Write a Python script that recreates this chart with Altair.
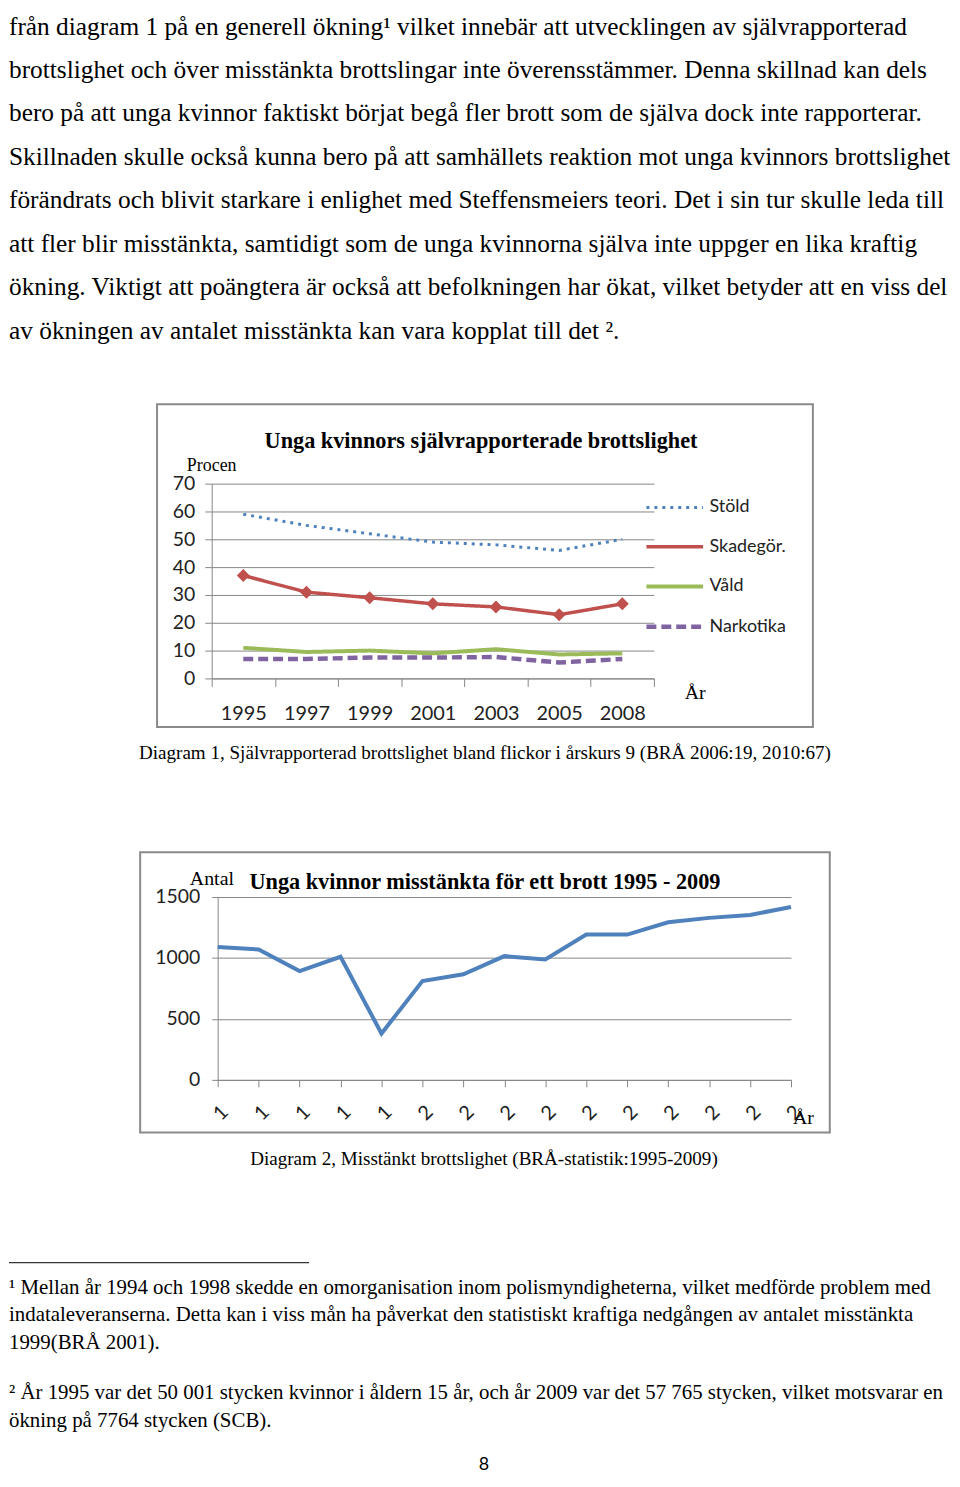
import altair as alt
import pandas as pd

# ---------------- data ----------------
main_lines = [
    "från diagram 1 på en generell ökning¹ vilket innebär att utvecklingen av självrapporterad",
    "brottslighet och över misstänkta brottslingar inte överensstämmer. Denna skillnad kan dels",
    "bero på att unga kvinnor faktiskt börjat begå fler brott som de själva dock inte rapporterar.",
    "Skillnaden skulle också kunna bero på att samhällets reaktion mot unga kvinnors brottslighet",
    "förändrats och blivit starkare i enlighet med Steffensmeiers teori. Det i sin tur skulle leda till",
    "att fler blir misstänkta, samtidigt som de unga kvinnorna själva inte uppger en lika kraftig",
    "ökning. Viktigt att poängtera är också att befolkningen har ökat, vilket betyder att en viss del",
    "av ökningen av antalet misstänkta kan vara kopplat till det ².",
]

years1 = ["1995", "1997", "1999", "2001", "2003", "2005", "2008"]
series1 = ["Stöld", "Skadegör.", "Våld", "Narkotika"]
stold = [59, 55, 52, 49, 48, 46, 50]
skadegor = [37, 31, 29, 26.8, 25.7, 22.9, 26.8]
vald = [11, 9.5, 10, 9, 10.5, 8.6, 9]
narkotika = [7, 7, 7.5, 7.5, 7.7, 5.7, 7]
yticks1 = [0, 10, 20, 30, 40, 50, 60, 70]

years2 = ["1995", "1996", "1997", "1998", "1999", "2000", "2001", "2002",
          "2003", "2004", "2005", "2006", "2007", "2008", "2009"]
counts = [1090, 1070, 893, 1010, 380, 811, 866, 1015, 988, 1192, 1192, 1293, 1329, 1353, 1418]
yticks2 = [0, 500, 1000, 1500]

title1 = "Unga kvinnors självrapporterade brottslighet"
title2 = "Unga kvinnor misstänkta för ett brott 1995 - 2009"
caption1 = "Diagram 1, Självrapporterad brottslighet bland flickor i årskurs 9 (BRÅ 2006:19, 2010:67)"
caption2 = "Diagram 2, Misstänkt brottslighet (BRÅ-statistik:1995-2009)"
footnotes1 = [
    "¹ Mellan år 1994 och 1998 skedde en omorganisation inom polismyndigheterna, vilket medförde problem med",
    "indataleveranserna. Detta kan i viss mån ha påverkat den statistiskt kraftiga nedgången av antalet misstänkta",
    "1999(BRÅ 2001).",
]
footnotes2 = [
    "² År 1995 var det 50 001 stycken kvinnor i åldern 15 år, och år 2009 var det 57 765 stycken, vilket motsvarar en",
    "ökning på 7764 stycken (SCB).",
]
page_no = "8"

SERIF = "Liberation Serif"
SANS = "Lato"
GRID = "#868686"
BOX = "#8a8a8a"

colors1 = ["#4F81BD", "#C0504D", "#9BBB59", "#8064A2"]


def txt(s):
    return pd.DataFrame({"t": [s]})


def label(s, x, y, size, weight="normal", align="left", font=SERIF):
    return alt.Chart(txt(s)).mark_text(font=font, fontSize=size, fontWeight=weight,
                                       baseline="middle", align=align, color="#000").encode(
        x=alt.value(x), y=alt.value(y), text="t:N")


def box(x0, x1, y0, y1):
    return alt.Chart(txt("")).mark_rect(fillOpacity=0, stroke=BOX, strokeWidth=2).encode(
        x=alt.value(x0), x2=alt.value(x1), y=alt.value(y0), y2=alt.value(y1))


# ---------------- panel A: body text ----------------
dfA = pd.DataFrame({"i": list(range(len(main_lines))), "t": main_lines})
panelA = alt.Chart(dfA).mark_text(
    align="left", baseline="middle", font=SERIF, fontSize=25.5, color="#000"
).encode(
    x=alt.value(0),
    y=alt.Y("i:Q", scale=alt.Scale(domain=[0, 7], range=[13, 319]), axis=None),
    text="t:N",
).properties(width=944, height=393)

# ---------------- panel B: chart 1 (box at x 149..809) ----------------
rows = []
for s, vals in zip(series1, [stold, skadegor, vald, narkotika]):
    for y, v in zip(years1, vals):
        rows.append({"year": y, "series": s, "value": v})
df1 = pd.DataFrame(rows)

X0 = 149
xsc1 = alt.Scale(type="band", domain=years1, range=[X0 + 55, X0 + 500], paddingInner=0, paddingOuter=0)
ysc1 = alt.Scale(domain=[0, 70], range=[276, 80])

lines1 = alt.Chart(df1).mark_line(strokeCap="butt").encode(
    x=alt.X("year:N", scale=xsc1, title=None,
            axis=alt.Axis(orient="bottom", offset=-49, tickBand="extent", tickSize=8,
                          labelPadding=17, labelFont=SANS, labelFontSize=20, labelColor="#222",
                          labelAngle=0, domainColor=GRID, tickColor=GRID, grid=False)),
    y=alt.Y("value:Q", scale=ysc1, title=None,
            axis=alt.Axis(orient="left", offset=-(X0 + 55), values=yticks1, tickSize=7,
                          labelPadding=10, labelFont=SANS, labelFontSize=19.5, labelColor="#222",
                          domainColor=GRID, tickColor=GRID, grid=True, gridColor=GRID)),
    color=alt.Color("series:N", scale=alt.Scale(domain=series1, range=colors1), title=None,
                    legend=alt.Legend(orient="none", legendX=639, legendY=467, symbolType="stroke",
                                      symbolSize=3249, rowPadding=-20, labelFont=SANS,
                                      labelFontSize=18, labelColor="#222", labelOffset=4)),
    strokeDash=alt.StrokeDash("series:N", scale=alt.Scale(domain=series1,
                              range=[[3, 5], [1, 0], [1, 0], [10, 5]]), title=None),
    strokeWidth=alt.StrokeWidth("series:N", scale=alt.Scale(domain=series1, range=[3, 4.5, 4, 4]),
                                title=None),
)

diam1 = alt.Chart(df1).transform_filter(alt.datum.series == "Skadegör.").mark_point(
    shape="diamond", filled=True, size=170, color="#C0504D", opacity=1
).encode(x=alt.X("year:N", scale=xsc1), y=alt.Y("value:Q", scale=ysc1))

panelB = alt.layer(
    lines1, diam1,
    box(X0, X0 + 660, 0, 325),
    label(title1, X0 + 326, 37, 22.4, weight="bold", align="center"),
    label("Procen", X0 + 30, 62, 18),
    label("År", X0 + 531, 291, 20),
).properties(width=944, height=325)

# ---------------- panel C: caption 1 ----------------
panelC = label(caption1, 479, 26, 19.2, align="center").properties(width=944, height=126)

# ---------------- panel D: chart 2 (box at x 132..826) ----------------
X1 = 132
df2 = pd.DataFrame({"year": years2, "count": counts})
xsc2 = alt.Scale(type="point", domain=years2, range=[X1 + 78, X1 + 655], padding=0)
ysc2 = alt.Scale(domain=[0, 1500], range=[229, 45])

line2 = alt.Chart(df2).mark_line(color="#4F81BD", strokeWidth=4).encode(
    x=alt.X("year:O", scale=xsc2, title=None,
            axis=alt.Axis(orient="bottom", offset=-53, tickSize=7, labelPadding=15,
                          labelExpr="substring(datum.label, 0, 1)", labelAngle=315,
                          labelFont=SANS, labelFontSize=20, labelColor="#222",
                          domainColor=GRID, tickColor=GRID, grid=False)),
    y=alt.Y("count:Q", scale=ysc2, title=None,
            axis=alt.Axis(orient="left", offset=-(X1 + 78), values=yticks2, tickSize=6, format="d",
                          labelPadding=12, labelFont=SANS, labelFontSize=19.5, labelColor="#222",
                          domainColor=GRID, tickColor=GRID, grid=True, gridColor=GRID)),
)

panelD = alt.layer(
    line2,
    box(X1, X1 + 694, 0, 282),
    label(title2, X1 + 110, 30, 22.4, weight="bold"),
    label("Antal", X1 + 50, 27, 20),
    label("År", X1 + 657, 267, 20),
).properties(width=944, height=282)

# ---------------- panel E: caption 2, footnotes ----------------
fnrule = alt.Chart(txt("")).mark_rule(color="#000", strokeWidth=1).encode(
    x=alt.value(0), x2=alt.value(302), y=alt.value(131))
df_fn1 = pd.DataFrame({"i": list(range(len(footnotes1))), "t": footnotes1})
fn1 = alt.Chart(df_fn1).mark_text(font=SERIF, fontSize=21, baseline="middle", align="left",
                                  color="#000").encode(
    x=alt.value(0),
    y=alt.Y("i:Q", scale=alt.Scale(domain=[0, 2], range=[156, 212]), axis=None),
    text="t:N")
df_fn2 = pd.DataFrame({"i": list(range(len(footnotes2))), "t": footnotes2})
fn2 = alt.Chart(df_fn2).mark_text(font=SERIF, fontSize=21, baseline="middle", align="left",
                                  color="#000").encode(
    x=alt.value(0),
    y=alt.Y("j:Q", scale=alt.Scale(domain=[0, 1], range=[262, 290]), axis=None),
    text="t:N").transform_calculate(j="datum.i")
panelE = alt.layer(
    label(caption2, 478, 27, 19.2, align="center"),
    fnrule, fn1, fn2,
    label(page_no, 478, 335, 18, align="center", font=SANS),
).resolve_scale(y="independent").properties(width=944, height=340)

chart = alt.vconcat(panelA, panelB, panelC, panelD, panelE, spacing=0, bounds="flush").properties(
    padding=0
).configure_view(stroke="transparent").configure_axis(labelFont=SANS)

chart.save("out.html", embed_options={"renderer": "svg", "actions": False})
